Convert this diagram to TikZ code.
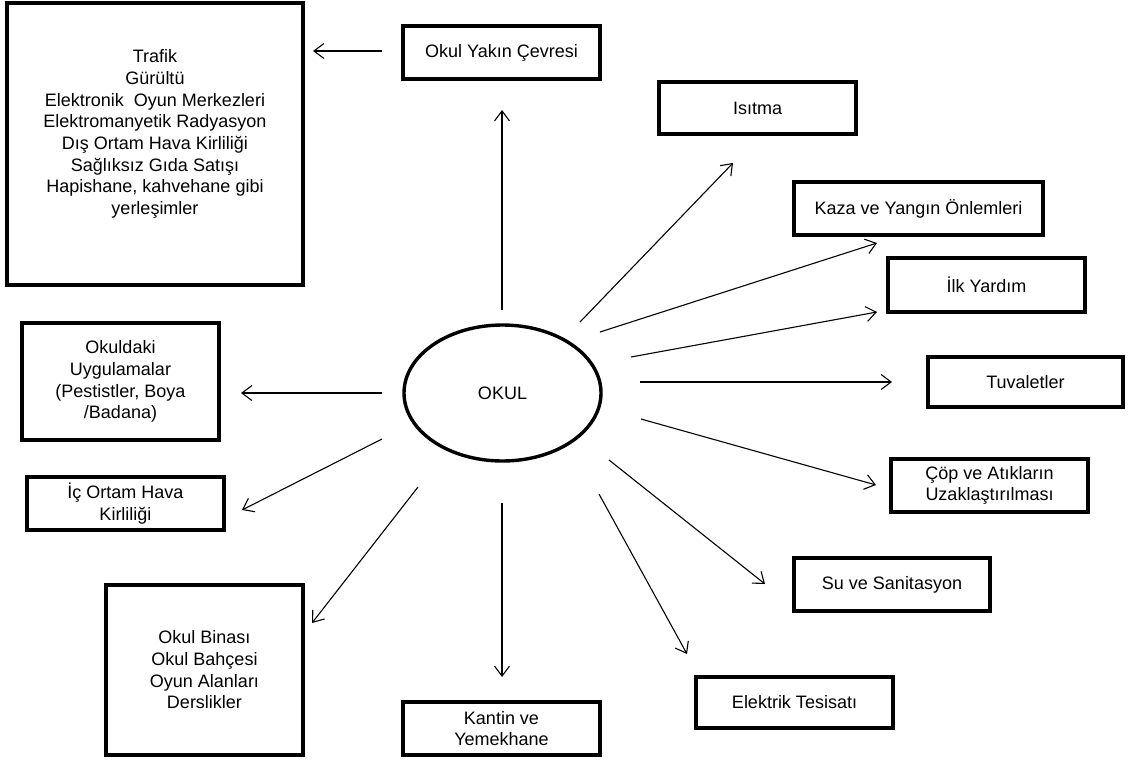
\documentclass[tikz,border=0pt]{standalone}
\usepackage{fontspec}
\setmainfont{Liberation Sans}
\usetikzlibrary{arrows.meta,shapes.geometric}
\begin{document}
\begin{tikzpicture}[x=1pt,y=-1pt,
  box/.style={draw, line width=3.4pt, align=center, inner sep=0pt},
  arr/.style={-{Straight Barb[length=10pt,width=15pt,line width=1.1pt]}, line width=1.1pt},
  font=\fontsize{18}{21.7}\selectfont]
\useasboundingbox (0,0) rectangle (1129,760);
% nodes
\node[box, minimum width=296pt, minimum height=282pt] (env) at (155,144) {};
\node[align=center] (envtext) at (155,134) {Trafik\\Gürültü\\Elektronik\ \ Oyun Merkezleri\\Elektromanyetik Radyasyon\\Dış Ortam Hava Kirliliği\\Sağlıksız Gıda Satışı\\Hapishane, kahvehane gibi\\yerleşimler};
\node[box, minimum width=197pt, minimum height=53pt] (yakin) at (501.5,52.5) {Okul Yakın Çevresi};
\node[box, minimum width=197pt, minimum height=52pt] (isitma) at (757.5,108) {Isıtma};
\node[box, minimum width=249pt, minimum height=53pt] (kaza) at (918.5,208.5) {Kaza ve Yangın Önlemleri};
\node[box, minimum width=197pt, minimum height=54pt] (ilk) at (986.5,285) {İlk Yardım};
\node[box, minimum width=195pt, minimum height=50pt] (tuv) at (1025.5,382) {Tuvaletler};
\node[box, minimum width=197pt, minimum height=53pt] (cop) at (989.5,485.5) {Çöp ve Atıkların\\Uzaklaştırılması};
\node[box, minimum width=196pt, minimum height=53pt] (su) at (892,584.5) {Su ve Sanitasyon};
\node[box, minimum width=197pt, minimum height=51pt] (elek) at (794.5,702.5) {Elektrik Tesisatı};
\node[box, minimum width=197pt, minimum height=53pt] (kantin) at (501.5,728.5) {Kantin ve\\Yemekhane};
\node[box, minimum width=197pt, minimum height=170pt] (bina) at (204.5,670) {Okul Binası\\Okul Bahçesi\\Oyun Alanları\\Derslikler};
\node[box, minimum width=197pt, minimum height=53pt] (ic) at (125.5,503.5) {İç Ortam Hava\\Kirliliği};
\node[box, minimum width=197pt, minimum height=117pt] (uyg) at (120.5,381.5) {Okuldaki\\Uygulamalar\\(Pestistler, Boya\\/Badana)};
\node[draw, ellipse, line width=3.4pt, inner sep=0pt, minimum width=197pt, minimum height=136pt] (okul) at (502.5,393) {OKUL};
% arrow end points
\coordinate (a1s) at (382,51);  \coordinate (a1e) at (313,51);
\coordinate (a2s) at (502,310); \coordinate (a2e) at (502,110);
\coordinate (a3s) at (580,322); \coordinate (a3e) at (733,163);
\coordinate (a4s) at (600,332); \coordinate (a4e) at (877,243);
\coordinate (a5s) at (631,357); \coordinate (a5e) at (877,312);
\coordinate (a6s) at (640,382); \coordinate (a6e) at (892,382);
\coordinate (a7s) at (641,419); \coordinate (a7e) at (876,485);
\coordinate (a8s) at (609,460); \coordinate (a8e) at (765,584);
\coordinate (a9s) at (599,494); \coordinate (a9e) at (687,654);
\coordinate (a10s) at (502,503); \coordinate (a10e) at (502,677);
\coordinate (a11s) at (418,487); \coordinate (a11e) at (312,623);
\coordinate (a12s) at (382,439); \coordinate (a12e) at (242,510);
\coordinate (a13s) at (382,393); \coordinate (a13e) at (241,393);
% arrows
\foreach \i in {1,...,13} \draw[arr] (a\i s) -- (a\i e);
\end{tikzpicture}
\end{document}
